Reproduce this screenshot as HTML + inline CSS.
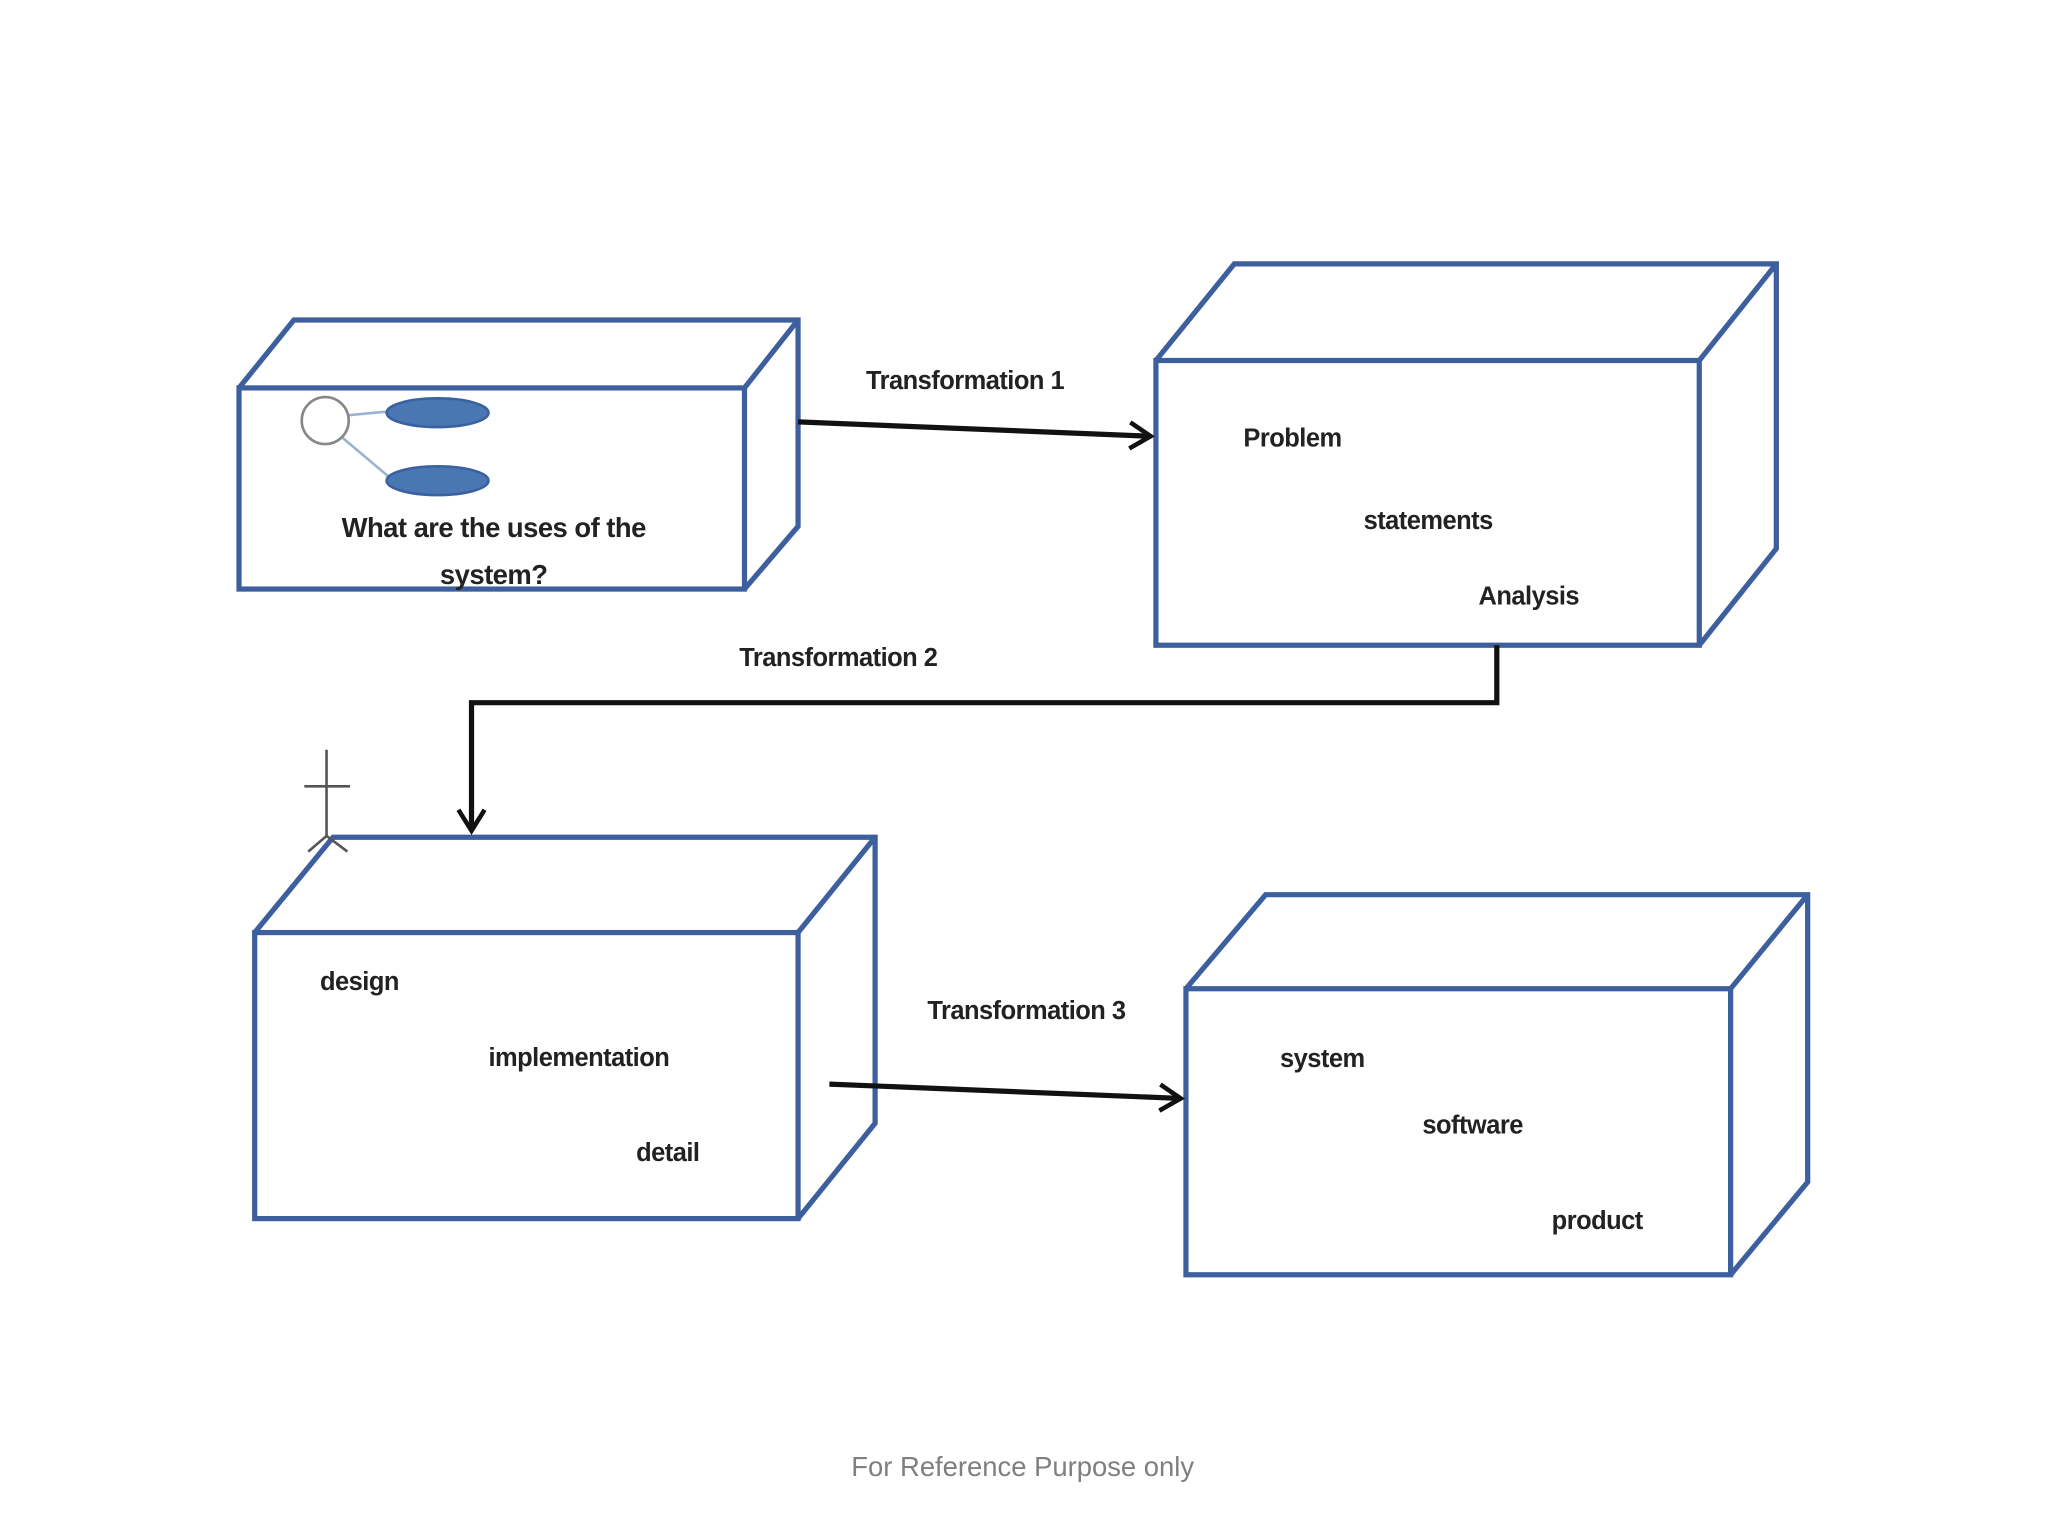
<!DOCTYPE html>
<html><head><style>
html,body{margin:0;padding:0;background:#fff;}
svg{display:block;}
text{font-family:"Liberation Sans",sans-serif;font-weight:bold;fill:#222;letter-spacing:-0.4px;}
</style></head><body>
<svg width="2048" height="1536" viewBox="0 0 1568 1176" xmlns="http://www.w3.org/2000/svg">
<defs>
<marker id="ah2" markerWidth="24" markerHeight="24" refX="20" refY="12" orient="auto" markerUnits="userSpaceOnUse">
<path d="M4,2 L20,12 L4,22" fill="none" stroke="#111" stroke-width="3.5"/>
</marker>
</defs>
<g fill="none" stroke="#3d5f9e" stroke-width="4" stroke-linejoin="miter">
<rect x="183" y="297" width="387" height="154"/>
<path d="M183,297 L225,245 L611,245 L611,403 L570,451 M570,297 L611,245"/>
<rect x="885" y="276" width="416" height="218"/>
<path d="M885,276 L945,202 L1360,202 L1360,420 L1301,494 M1301,276 L1360,202"/>
<rect x="195" y="714" width="416" height="219"/>
<path d="M195,714 L255,641 L670,641 L670,860 L611,933 M611,714 L670,641"/>
<rect x="908" y="757" width="417" height="219"/>
<path d="M908,757 L969,685 L1384,685 L1384,905 L1325,976 M1325,757 L1384,685"/>
</g>
<line x1="266" y1="318" x2="298" y2="315" stroke="#9ab3d0" stroke-width="2"/>
<line x1="262" y1="335" x2="300" y2="367" stroke="#9ab3d0" stroke-width="2"/>
<circle cx="249" cy="322" r="18" fill="#fff" stroke="#888" stroke-width="2"/>
<ellipse cx="335" cy="316" rx="39" ry="11" fill="#4a76b4" stroke="#3a62a0" stroke-width="2"/>
<ellipse cx="335" cy="368" rx="39" ry="11" fill="#4a76b4" stroke="#3a62a0" stroke-width="2"/>
<text x="378" y="411" font-size="21" text-anchor="middle">What are the uses of the</text>
<text x="378" y="447" font-size="21" text-anchor="middle">system?</text>
<g stroke="#111" stroke-width="4" fill="none">
<line x1="611" y1="323" x2="881" y2="334" marker-end="url(#ah2)"/>
<polyline points="1146,494 1146,538 361,538 361,636" marker-end="url(#ah2)"/>
<line x1="635" y1="830" x2="904" y2="841" marker-end="url(#ah2)"/>
</g>
<g stroke="#555" stroke-width="2" fill="none">
<line x1="250" y1="574" x2="250" y2="640"/>
<line x1="233" y1="602" x2="268" y2="602"/>
<path d="M236,652 L250,640 L266,652"/>
</g>
<g font-size="19.5">
<text x="663" y="298">Transformation 1</text>
<text x="566" y="510">Transformation 2</text>
<text x="710" y="780">Transformation 3</text>
<text x="952" y="342">Problem</text>
<text x="1044" y="405">statements</text>
<text x="1132" y="463">Analysis</text>
<text x="245" y="758">design</text>
<text x="374" y="816">implementation</text>
<text x="487" y="889">detail</text>
<text x="980" y="817">system</text>
<text x="1089" y="868">software</text>
<text x="1188" y="941">product</text>
</g>
<text x="783" y="1130" font-size="21" text-anchor="middle" style="font-weight:normal;fill:#7f7f7f;letter-spacing:0">For Reference Purpose only</text>
</svg>
</body></html>
